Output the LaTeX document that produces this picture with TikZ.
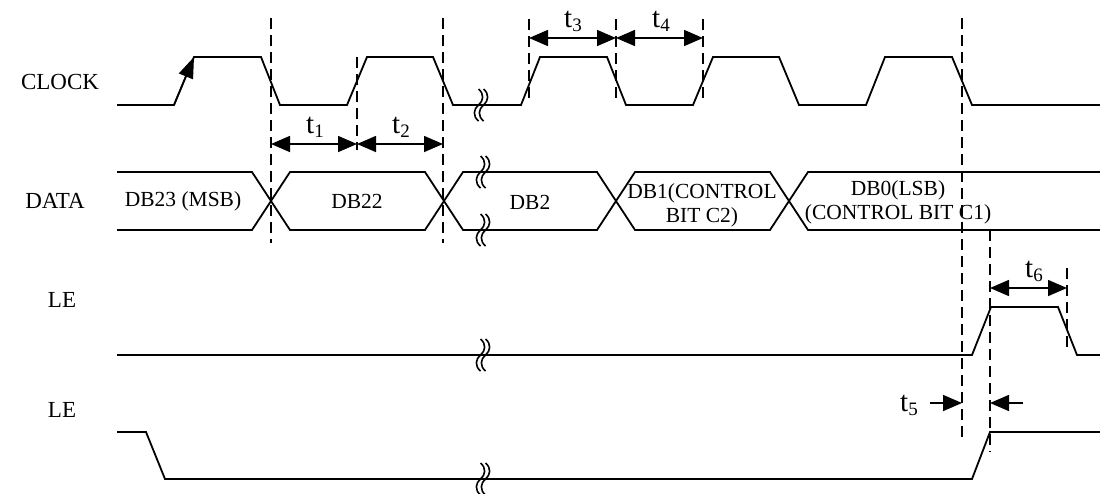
\documentclass[tikz,border=0pt]{standalone}
\usepackage{fontspec}
\setmainfont{Liberation Serif}
\usetikzlibrary{arrows.meta}
\newcommand{\tlab}[1]{{\fontsize{29}{30}\selectfont t\raisebox{-0.3ex}{\fontsize{19}{20}\selectfont #1}}}
\tikzset{
  sig/.style={line width=1.8pt, line join=miter},
  guide/.style={line width=1.6pt, dash pattern=on 11pt off 6pt},
  dim/.style={line width=1.6pt, {Triangle[length=19pt,width=16pt]}-{Triangle[length=19pt,width=16pt]}},
  dimr/.style={line width=1.6pt, -{Triangle[length=19pt,width=16pt]}},
  lbl/.style={inner sep=0pt, font=\fontsize{23}{25}\selectfont},
  dlbl/.style={inner sep=0pt, align=center, font=\fontsize{21.5}{24}\selectfont},
  tl/.style={inner sep=0pt},
  brk/.pic={
    \draw[line width=1.6pt] (-2.5,-16) .. controls (3.5,-11) and (2.5,-4) .. (-2.5,0) .. controls (-7.5,4) and (-8.5,11) .. (-2.5,16);
    \draw[line width=1.6pt] (2.5,-16) .. controls (8.5,-11) and (7.5,-4) .. (2.5,0) .. controls (-2.5,4) and (-3.5,11) .. (2.5,16);
  }
}
\begin{document}
\begin{tikzpicture}[x=1pt,y=-1pt]
\useasboundingbox (0,0) rectangle (1100,493);
% labels
\node[lbl] (clk) at (60,82) {CLOCK};
\node[lbl] (dat) at (55,201) {DATA};
\node[lbl] (le1) at (62,300) {LE};
\node[lbl] (le2) at (62,410) {LE};
% CLOCK
\draw[sig] (117,105) -- (174,105) -- (194,57) -- (261,57) -- (280,105) -- (347,105) -- (367,57) -- (433,57) -- (453,105) -- (521,105) -- (540,57) -- (607,57) -- (626,105) -- (693,105) -- (713,57) -- (779,57) -- (799,105) -- (866,105) -- (885,57) -- (952,57) -- (972,105) -- (1100,105);
\coordinate (r0) at (174,105);
\coordinate (r1) at (194,57);
\draw[line width=1.6pt, -{Triangle[length=21pt,width=15pt]}] (r0) -- (r1);
% DATA
\draw[sig] (117,172) -- (252,172) -- (290,230) -- (425,230) -- (463,172) -- (597,172) -- (635,230) -- (770,230) -- (808,172) -- (1100,172);
\draw[sig] (117,230) -- (252,230) -- (290,172) -- (425,172) -- (463,230) -- (597,230) -- (635,172) -- (770,172) -- (808,230) -- (1100,230);
\node[dlbl] (d23) at (183,201) {DB23 (MSB)};
\node[dlbl] (d22) at (357,201) {DB22};
\node[dlbl] (d2) at (530,202) {DB2};
\node[dlbl] (d1) at (702,205) {DB1(CONTROL\\BIT C2)};
\node[dlbl] (d0) at (898,202) {DB0(LSB)\\(CONTROL BIT C1)};
% LE
\draw[sig] (117,355) -- (972,355) -- (991,307) -- (1058,307) -- (1077,355) -- (1100,355);
\draw[sig] (117,432) -- (146,432) -- (165,479) -- (972,479) -- (990,432) -- (1100,432);
% breaks
\pic at (481,105) {brk};
\pic at (483,172) {brk};
\pic at (483,230) {brk};
\pic at (483,355) {brk};
\pic at (483,479) {brk};
% guides
\draw[guide] (271,18) -- (271,243);
\draw[guide] (357,57) -- (357,150);
\draw[guide] (443,18) -- (443,243);
\draw[guide] (529,19) -- (529,100);
\draw[guide] (616,19) -- (616,100);
\draw[guide] (703,19) -- (703,100);
\draw[guide] (962,18) -- (962,442);
\draw[guide] (990,230) -- (990,452);
\draw[guide] (1067,268) -- (1067,350);
% dimension coordinates
\coordinate (a1) at (271,144);
\coordinate (a2) at (357,144);
\coordinate (a3) at (443,144);
\coordinate (b1) at (529,38);
\coordinate (b2) at (616,38);
\coordinate (b3) at (703,38);
\coordinate (c1) at (990,288);
\coordinate (c2) at (1067,288);
\coordinate (e1) at (930,403);
\coordinate (e2) at (962,403);
\coordinate (e3) at (1023,403);
\coordinate (e4) at (990,403);
\draw[dim] (a1) -- (a2);
\draw[dim] (a2) -- (a3);
\draw[dim] (b1) -- (b2);
\draw[dim] (b2) -- (b3);
\draw[dim] (c1) -- (c2);
\draw[dimr] (e1) -- (e2);
\draw[dimr] (e3) -- (e4);
\node[tl] (t1) at (315,127) {\tlab{1}};
\node[tl] (t2) at (401,127) {\tlab{2}};
\node[tl] (t3) at (573,21) {\tlab{3}};
\node[tl] (t4) at (661,21) {\tlab{4}};
\node[tl] (t6) at (1034,271) {\tlab{6}};
\node[tl] (t5) at (909,405) {\tlab{5}};
\end{tikzpicture}
\end{document}
